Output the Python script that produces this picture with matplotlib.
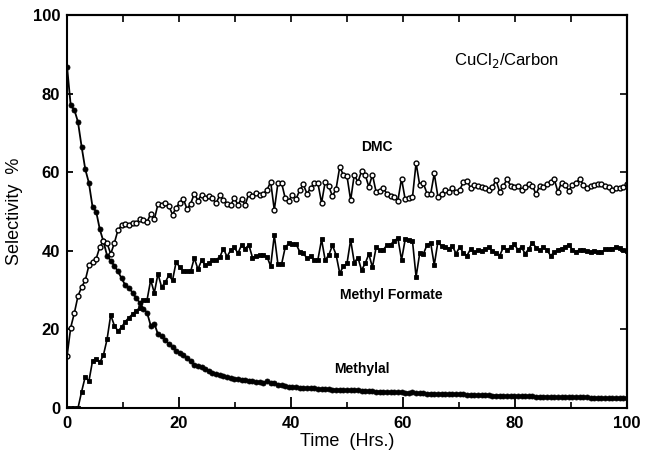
import numpy as np
import matplotlib
matplotlib.use("Agg")
import matplotlib.pyplot as plt

# time grid (hours), regular sampling
time_hrs = np.linspace(0, 100, 155)

dmc = [
    13.3, 20.5, 24.2, 28.5, 30.8, 32.5, 36.3, 37.3, 38.0, 41.0,
    42.5, 42.0, 39.2, 42.0, 45.3, 46.5, 46.8, 46.7, 47.2, 47.0,
    48.0, 47.8, 47.3, 49.5, 48.0, 51.9, 51.6, 52.2, 51.5, 49.2,
    51.0, 52.3, 53.2, 50.6, 52.0, 54.6, 52.8, 54.3, 53.5, 54.0,
    53.4, 52.1, 54.2, 53.0, 52.0, 51.7, 53.4, 51.8, 53.2, 51.7,
    54.6, 54.0, 54.7, 54.2, 54.6, 55.5, 57.6, 50.4, 57.3, 57.3,
    53.4, 52.8, 54.3, 53.2, 55.5, 56.9, 54.5, 56.0, 57.2, 57.2,
    52.2, 57.6, 56.4, 53.9, 55.8, 61.4, 59.3, 59.0, 52.9, 59.4,
    57.5, 60.3, 59.4, 56.3, 59.4, 55.0, 55.3, 55.9, 54.5, 54.0,
    53.7, 52.8, 58.4, 53.1, 53.4, 53.6, 62.4, 56.7, 57.2, 54.6,
    54.4, 59.7, 53.8, 54.6, 55.5, 55.0, 55.9, 55.0, 55.5, 57.5,
    57.8, 56.0, 56.8, 56.5, 56.2, 56.0, 55.4, 56.2, 58.0, 55.0,
    56.5, 58.2, 56.6, 56.2, 56.6, 55.4, 56.2, 57.1, 56.6, 54.4,
    56.6, 56.2, 56.9, 57.5, 58.3, 55.0, 57.4, 56.8, 55.3, 56.8,
    57.2, 58.4, 56.8, 55.9, 56.6, 56.8, 57.0, 57.1, 56.6, 56.2,
    55.6, 56.0, 56.1, 56.2, 57.0,
]

methyl_formate = [
    0.0, 0.0, 0.0, 0.0, 4.2, 8.0, 6.8, 12.0, 12.6, 11.6,
    13.5, 17.5, 23.7, 21.0, 19.6, 20.6, 22.0, 23.0, 23.9, 24.8,
    25.5, 27.5, 27.5, 32.6, 29.3, 34.2, 30.8, 32.0, 33.8, 32.5,
    37.2, 35.8, 34.8, 34.8, 34.8, 38.2, 35.3, 37.6, 36.4, 36.9,
    37.7, 37.8, 38.4, 40.6, 38.5, 40.2, 40.9, 39.4, 41.5, 40.6,
    41.5, 38.3, 38.6, 38.9, 38.9, 38.5, 36.1, 44.0, 36.6, 36.6,
    40.9, 41.9, 41.8, 41.7, 39.8, 39.4, 38.1, 38.6, 37.7, 37.8,
    42.9, 37.6, 39.0, 41.4, 39.0, 34.3, 36.1, 36.8, 42.8, 37.0,
    38.3, 35.1, 36.8, 39.2, 35.8, 40.9, 40.2, 40.3, 41.5, 41.6,
    42.6, 43.2, 37.7, 42.9, 42.8, 42.6, 33.4, 39.4, 39.2, 41.5,
    42.1, 36.4, 42.3, 41.2, 41.1, 40.6, 41.2, 39.3, 41.0, 39.5,
    38.8, 40.5, 39.6, 40.2, 40.0, 40.4, 40.9, 40.0, 39.5, 38.8,
    40.9, 40.2, 40.9, 41.7, 40.3, 40.9, 39.3, 40.5, 42.1, 40.8,
    40.2, 40.9, 40.2, 38.8, 39.6, 40.3, 40.6, 41.0, 41.6, 40.3,
    39.8, 40.3, 40.1, 40.0, 39.8, 40.0, 39.8, 39.6, 40.4, 40.4,
    40.6, 41.0, 40.8, 40.2, 39.9,
]

methylal = [
    86.8, 77.0, 75.9, 72.8, 66.5, 60.8, 57.3, 51.2, 50.0, 45.5,
    42.4, 38.8, 37.5, 36.2, 34.8, 33.0, 31.3, 30.6, 29.4, 28.0,
    26.8, 25.3, 24.3, 21.0, 21.5, 18.8, 18.3, 17.3, 16.3, 15.5,
    14.6, 14.1, 13.6, 12.8, 11.9, 11.0, 10.7, 10.4, 10.0, 9.5,
    9.0, 8.6, 8.4, 8.1, 7.9, 7.7, 7.5, 7.3, 7.2, 7.1,
    7.0, 6.8, 6.7, 6.6, 6.5, 6.8, 6.3, 6.5, 6.0, 5.8,
    5.6, 5.4, 5.4, 5.3, 5.2, 5.2, 5.1, 5.0, 5.0, 4.9,
    4.9, 4.8, 4.8, 4.7, 4.7, 4.7, 4.6, 4.6, 4.6, 4.5,
    4.5, 4.4, 4.4, 4.3, 4.3, 4.2, 4.2, 4.2, 4.1, 4.1,
    4.0, 4.0, 4.0, 3.9, 3.9, 4.0, 3.8, 3.8, 3.8, 3.7,
    3.7, 3.7, 3.6, 3.7, 3.6, 3.6, 3.5, 3.5, 3.5, 3.5,
    3.4, 3.4, 3.4, 3.3, 3.3, 3.3, 3.3, 3.2, 3.2, 3.2,
    3.1, 3.1, 3.1, 3.1, 3.0, 3.0, 3.0, 3.0, 2.95, 2.9,
    2.9, 2.9, 2.9, 2.85, 2.85, 2.8, 2.8, 2.8, 2.75, 2.75,
    2.7, 2.7, 2.7, 2.7, 2.65, 2.65, 2.6, 2.6, 2.6, 2.6,
    2.55, 2.55, 2.5, 2.5, 2.5,
]

x_ticks = [0, 20, 40, 60, 80, 100]
y_ticks = [0, 20, 40, 60, 80, 100]

plt.rcParams['font.family'] = ['Liberation Sans', 'DejaVu Sans']

fig = plt.figure(figsize=(6.45, 4.58), dpi=100)
ax = fig.add_axes([0.104, 0.109, 0.868, 0.858])

ax.plot(time_hrs, methylal, '-', color='black', lw=1.3, marker='o', ms=3.6,
        mfc='black', mec='black', mew=0.6)
ax.plot(time_hrs, methyl_formate, '-', color='black', lw=1.2, marker='s', ms=3.0,
        mfc='black', mec='black', mew=0.6)
ax.plot(time_hrs, dmc, '-', color='black', lw=1.2, marker='o', ms=3.5,
        mfc='white', mec='black', mew=1.0)

ax.set_xlim(0, 100)
ax.set_ylim(0, 100)
ax.set_xticks(x_ticks)
ax.set_xticks([10, 30, 50, 70, 90], minor=True)
ax.set_yticks(y_ticks)
for s in ax.spines.values():
    s.set_linewidth(1.5)

ax.tick_params(axis='x', which='major', direction='in', length=8, width=1.3,
               labelsize=12, pad=6)
ax.tick_params(axis='x', which='minor', direction='in', length=4, width=1.2)
ax.tick_params(axis='y', which='major', direction='in', length=4, width=1.3,
               labelsize=12, pad=5)
for lbl in ax.get_xticklabels() + ax.get_yticklabels():
    lbl.set_fontweight('bold')

top = ax.secondary_xaxis('top')
top.set_xticks([10, 20, 30, 40, 50, 60, 70, 80, 90])
top.tick_params(direction='in', length=5, width=1.2, labeltop=False)
top.spines['top'].set_linewidth(1.5)
right = ax.secondary_yaxis('right')
right.set_yticks([20, 40, 60, 80])
right.tick_params(direction='in', length=5, width=1.2, labelright=False)
right.spines['right'].set_linewidth(1.5)

ax.set_xlabel('Time  (Hrs.)', fontsize=13, labelpad=1)
ax.set_ylabel('Selectivity  %', fontsize=13, labelpad=7)

ax.text(55.3, 66.5, 'DMC', ha='center', va='center', fontsize=10, fontweight='bold')
ax.text(57.9, 28.8, 'Methyl Formate', ha='center', va='center', fontsize=10,
        fontweight='bold')
ax.text(52.6, 9.9, 'Methylal', ha='center', va='center', fontsize=10,
        fontweight='bold')
ax.text(78.5, 88.5, 'CuCl$_2$/Carbon', ha='center', va='center', fontsize=12)

fig.savefig('out.png', dpi=100)
